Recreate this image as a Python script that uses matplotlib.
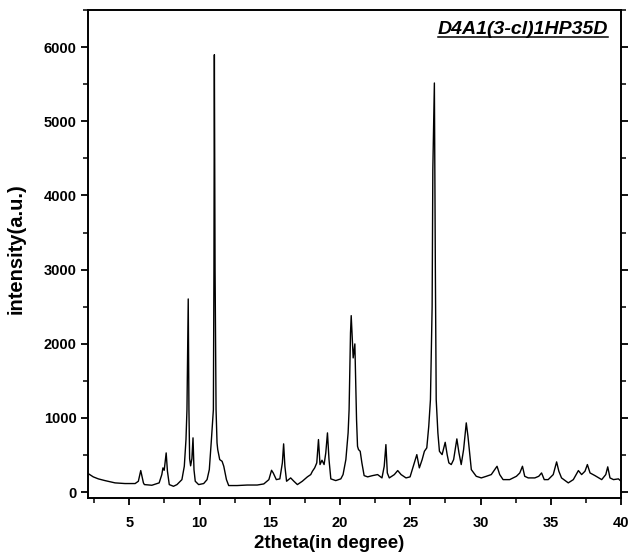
import matplotlib
matplotlib.use("Agg")
import matplotlib.pyplot as plt
from matplotlib.ticker import MultipleLocator
from matplotlib.lines import Line2D

plt.rcParams['font.family'] = ['Liberation Sans', 'DejaVu Sans']
plt.rcParams['font.weight'] = 'bold'

title_text = "D4A1(3-cl)1HP35D"
x_label = "2theta(in degree)"
y_label = "intensity(a.u.)"

two_theta = [
    2.07, 2.43, 2.79, 3.26, 3.98, 4.69, 5.41, 5.64, 5.81, 6.00, 6.07, 6.60,
    7.12, 7.31, 7.39, 7.48, 7.62, 7.71, 7.84, 8.14, 8.39, 8.74, 8.91, 9.03,
    9.10, 9.19, 9.24, 9.29, 9.36, 9.45, 9.53, 9.60, 9.69, 9.93, 10.29, 10.53,
    10.69, 10.84, 10.98, 11.02, 11.05, 11.10, 11.17, 11.24, 11.29, 11.43, 11.60, 11.72,
    11.91, 12.07, 12.67, 13.39, 14.10, 14.57, 14.93, 15.12, 15.24, 15.46, 15.71, 15.89,
    15.98, 16.07, 16.19, 16.48, 16.71, 16.96, 17.31, 17.67, 17.91, 18.03, 18.19, 18.34,
    18.46, 18.57, 18.71, 18.86, 18.98, 19.10, 19.21, 19.34, 19.69, 20.05, 20.21, 20.41,
    20.57, 20.64, 20.74, 20.79, 20.93, 21.05, 21.12, 21.17, 21.24, 21.31, 21.43, 21.55,
    21.71, 21.96, 22.31, 22.67, 22.98, 23.14, 23.26, 23.36, 23.50, 23.86, 24.10, 24.34,
    24.69, 24.98, 25.21, 25.46, 25.64, 25.84, 26.00, 26.17, 26.31, 26.43, 26.55, 26.60,
    26.71, 26.78, 26.84, 26.96, 27.07, 27.26, 27.48, 27.62, 27.74, 27.91, 28.08, 28.31,
    28.46, 28.62, 28.79, 28.98, 29.10, 29.34, 29.69, 30.05, 30.41, 30.76, 31.17, 31.36,
    31.60, 32.07, 32.55, 32.79, 32.98, 33.14, 33.39, 33.86, 34.14, 34.34, 34.53, 34.81,
    35.17, 35.41, 35.57, 35.76, 36.24, 36.60, 36.96, 37.19, 37.43, 37.60, 37.79, 38.14,
    38.62, 38.91, 39.05, 39.21, 39.46, 39.81, 40.00,
]
intensity = [
    249, 205, 178, 155, 124, 115, 115, 146, 290, 124, 101, 92,
    124, 236, 326, 294, 528, 281, 101, 78, 101, 168, 348, 708,
    1112, 2604, 1112, 450, 354, 450, 731, 300, 146, 101, 115, 168,
    303, 708, 1112, 3000, 5897, 3000, 1112, 663, 573, 438, 415, 348,
    168, 88, 88, 95, 95, 110, 168, 294, 258, 168, 178, 394,
    650, 348, 146, 191, 146, 101, 146, 205, 236, 281, 326, 394,
    708, 371, 429, 371, 528, 798, 438, 178, 155, 178, 236, 438,
    798, 1112, 2146, 2379, 1809, 1998, 1400, 977, 617, 573, 550, 394,
    222, 205, 222, 236, 191, 348, 640, 258, 191, 236, 290, 236,
    191, 205, 348, 505, 326, 438, 550, 596, 887, 1247, 2500, 4347,
    5516, 3000, 1247, 798, 550, 505, 671, 505, 394, 371, 438, 717,
    528, 371, 573, 933, 753, 303, 213, 191, 213, 236, 348, 236,
    168, 168, 213, 258, 348, 213, 191, 191, 213, 258, 168, 168,
    236, 407, 281, 191, 124, 168, 290, 236, 281, 371, 258, 222,
    168, 236, 340, 191, 168, 178, 146,
]

fig = plt.figure(figsize=(6.28, 5.56), dpi=100)
ax = fig.add_axes([0.140, 0.1043, 0.849, 0.8777])
ax.plot(two_theta, intensity, color='black', linewidth=1.0)

ax.set_xlim(2.05, 40.0)
ax.set_ylim(-80, 6500)
ax.xaxis.set_major_locator(MultipleLocator(5))
ax.xaxis.set_minor_locator(MultipleLocator(2.5))
ax.yaxis.set_major_locator(MultipleLocator(1000))
ax.yaxis.set_minor_locator(MultipleLocator(500))

for s in ax.spines.values():
    s.set_linewidth(1.4)

ax.tick_params(axis='both', which='major', direction='out', length=5, width=1.3,
               labelsize=10.5)
ax.tick_params(axis='x', which='major', pad=8)
ax.tick_params(axis='y', which='major', pad=3)
ax.tick_params(axis='both', which='minor', direction='out', length=3.5, width=1.1)
ax.tick_params(axis='y', which='both', right=True)
for lab in ax.get_xticklabels() + ax.get_yticklabels():
    lab.set_fontweight('bold')

ax.set_xlabel(x_label, fontsize=13.5, fontweight='bold')
ax.xaxis.set_label_coords(0.453, -0.076)
ax.set_ylabel(y_label, fontsize=14.5, fontweight='bold')
ax.yaxis.set_label_coords(-0.116, 0.512)

t = ax.text(0.976, 0.951, title_text, transform=ax.transAxes, ha='right', va='baseline',
            fontsize=14, fontweight='bold', fontstyle='italic')

fig.canvas.draw()
bb = t.get_window_extent(renderer=fig.canvas.get_renderer())
inv = fig.transFigure.inverted()
(x0, y0), (x1, y1) = inv.transform([(bb.x0, bb.y0), (bb.x1, bb.y0)])
uy = y0 + 1.0 / 556
fig.add_artist(Line2D([x0, x1], [uy, uy], transform=fig.transFigure, color='black', linewidth=1.1))

fig.savefig("out.png", dpi=100)
